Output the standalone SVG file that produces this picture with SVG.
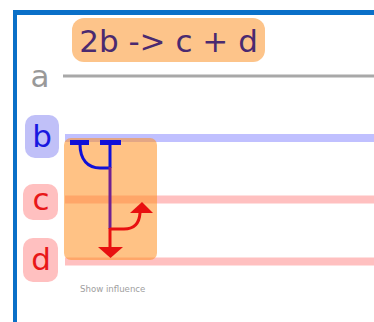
<svg xmlns="http://www.w3.org/2000/svg" width="374" height="322" viewBox="0 0 374 322">
<style>
.lbl{font-family:"DejaVu Sans",sans-serif;font-size:31px;text-anchor:middle}
.line{stroke-width:8;fill:none}
.inh{stroke:#1010d8;fill:none}
</style>
<rect x="0" y="0" width="374" height="322" fill="#ffffff"/>
<g id="frame">
<rect x="13" y="10" width="361" height="5" fill="#0a70c8"/>
<rect x="13" y="10" width="4" height="312" fill="#0a70c8"/>
</g>
<g id="species-lines">
<line x1="63" y1="76" x2="374" y2="76" stroke="#a8a8a8" stroke-width="3"/>
<line class="line" x1="65" y1="138" x2="374" y2="138" stroke="#c0c0ff"/>
<line class="line" x1="65" y1="199.5" x2="374" y2="199.5" stroke="#ffc0c0"/>
<line class="line" x1="65" y1="261.5" x2="374" y2="261.5" stroke="#ffc0c0"/>
</g>
<g id="node-reaction-label">
<rect x="72" y="18" width="193" height="44" rx="12" fill="#fdc48a"/>
<text class="lbl" x="168.5" y="52" fill="#4a2a70">2b -&gt; c + d</text>
</g>
<g id="node-a">
<text class="lbl" x="40" y="87" fill="#999999">a</text>
</g>
<g id="node-b">
<rect x="25" y="115" width="34" height="43" rx="10" fill="#c0c0f8"/>
<text class="lbl" x="42" y="147" fill="#1818e0">b</text>
</g>
<g id="node-c">
<rect x="23" y="184" width="35" height="36" rx="10" fill="#ffc0c0"/>
<text class="lbl" x="41" y="210" fill="#e81818">c</text>
</g>
<g id="node-d">
<rect x="23" y="238" width="35" height="44" rx="10" fill="#ffc0c0"/>
<text class="lbl" x="41" y="270" fill="#e81818">d</text>
</g>
<g id="node-reaction">
<rect x="64" y="138" width="93" height="122" rx="7" fill="#ff9020" fill-opacity="0.55"/>
</g>
<g id="connectors">
<line class="inh" x1="70" y1="142.5" x2="89" y2="142.5" stroke-width="5"/>
<line class="inh" x1="100" y1="142.5" x2="121" y2="142.5" stroke-width="5"/>
<path class="inh" d="M80,144 C80,160 88,168 100,168 L110,168" stroke-width="3"/>
<line class="inh" x1="110" y1="144" x2="110" y2="168" stroke-width="3"/>
<line x1="110" y1="167" x2="110" y2="229" stroke="#702090" stroke-width="3"/>
<line x1="110" y1="228" x2="110" y2="248" stroke="#e81010" stroke-width="3"/>
<polygon points="98,247 123,247 110.5,258" fill="#e81010"/>
<path d="M110,229 L124,229 Q139,229 140,213" stroke="#e81010" stroke-width="3" fill="none"/>
<polygon points="130,213 153,213 142,202" fill="#e81010"/>
</g>
<text x="80" y="292" font-family="DejaVu Sans, sans-serif" font-size="8.6" fill="#a0a0a0">Show influence</text>
</svg>
